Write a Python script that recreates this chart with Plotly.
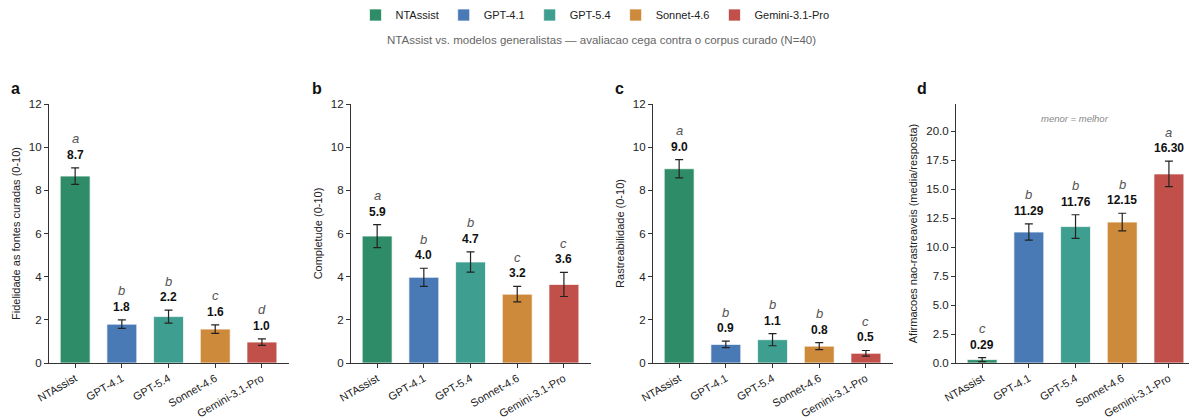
import plotly.graph_objects as go

models = ["NTAssist", "GPT-4.1", "GPT-5.4", "Sonnet-4.6", "Gemini-3.1-Pro"]
colors = ["#2E8C68", "#4A7AB6", "#3E9E8F", "#CD8A3B", "#C1504A"]

fid_vals = [8.66, 1.80, 2.15, 1.57, 0.97]
fid_err = [0.38, 0.20, 0.30, 0.20, 0.15]
fid_lbl = ["8.7", "1.8", "2.2", "1.6", "1.0"]
fid_let = ["a", "b", "b", "c", "d"]

comp_vals = [5.88, 3.97, 4.68, 3.19, 3.64]
comp_err = [0.53, 0.42, 0.47, 0.36, 0.56]
comp_lbl = ["5.9", "4.0", "4.7", "3.2", "3.6"]
comp_let = ["a", "b", "b", "c", "c"]

rast_vals = [9.00, 0.86, 1.08, 0.78, 0.45]
rast_err = [0.42, 0.15, 0.28, 0.16, 0.13]
rast_lbl = ["9.0", "0.9", "1.1", "0.8", "0.5"]
rast_let = ["a", "b", "b", "b", "c"]

nr_vals = [0.29, 11.29, 11.76, 12.15, 16.30]
nr_err = [0.17, 0.70, 1.02, 0.76, 1.10]
nr_lbl = ["0.29", "11.29", "11.76", "12.15", "16.30"]
nr_let = ["c", "b", "b", "b", "a"]

panels = [
    ("a", "Fidelidade as fontes curadas (0-10)", fid_vals, fid_err, fid_lbl, fid_let, [0, 12], [0, 2, 4, 6, 8, 10, 12], None),
    ("b", "Completude (0-10)", comp_vals, comp_err, comp_lbl, comp_let, [0, 12], [0, 2, 4, 6, 8, 10, 12], None),
    ("c", "Rastreabilidade (0-10)", rast_vals, rast_err, rast_lbl, rast_let, [0, 12], [0, 2, 4, 6, 8, 10, 12], None),
    ("d", "Afirmacoes nao-rastreaveis (media/resposta)", nr_vals, nr_err, nr_lbl, nr_let, [0, 22.33], [0, 2.5, 5, 7.5, 10, 12.5, 15, 17.5, 20], ".1f"),
]

# page body has an 8px margin; figure coordinates = screen coordinates - 8
OFF = 8
W, H = 1197 - OFF, 417 - OFF
x_left = [49 - OFF, 351 - OFF, 653 - OFF, 956 - OFF]
panel_w = 240
y_top, y_bot = 104 - OFF, 363 - OFF
letter_x = [15 - OFF, 317 - OFF, 619 - OFF, 922 - OFF]

FONT = "Liberation Sans, Arial, Helvetica, sans-serif"
AX = "#333333"

fig = go.Figure()
annotations = []

for i, (plab, ytitle, vals, errs, lbls, lets, yr, ticks, tfmt) in enumerate(panels):
    n = i + 1
    xa = "x" if n == 1 else f"x{n}"
    ya = "y" if n == 1 else f"y{n}"
    for j, m in enumerate(models):
        fig.add_trace(go.Bar(
            x=[m], y=[vals[j]], name=m, legendgroup=m, showlegend=(i == 0),
            marker=dict(color=colors[j], line=dict(color="rgba(255,255,255,0.7)", width=1)),
            width=0.64,
            error_y=dict(type="data", array=[errs[j]], color="#222222", thickness=1.2, width=4),
            xaxis=xa, yaxis=ya,
        ))
        top = vals[j] + errs[j]
        annotations.append(dict(x=m, y=top, xref=xa, yref=ya, text=f"<b>{lbls[j]}</b>",
                                showarrow=False, yanchor="middle", yshift=13,
                                font=dict(size=12, color="#111111", family=FONT)))
        annotations.append(dict(x=m, y=top, xref=xa, yref=ya, text=f"<i>{lets[j]}</i>",
                                showarrow=False, yanchor="middle", yshift=29,
                                font=dict(size=13, color="#555555", family=FONT)))
    d0 = x_left[i] / W
    d1 = (x_left[i] + panel_w) / W
    xkey = "xaxis" if n == 1 else f"xaxis{n}"
    ykey = "yaxis" if n == 1 else f"yaxis{n}"
    fig.update_layout({
        xkey: dict(domain=[d0, d1], anchor=ya, type="category", range=[-0.56, 4.58],
                   showline=True, linecolor=AX, linewidth=1.1, ticks="outside", ticklen=4,
                   tickcolor=AX, tickangle=-30, tickfont=dict(size=11, color="#222", family=FONT),
                   showgrid=False, zeroline=False, automargin=False, fixedrange=True),
        ykey: dict(domain=[1 - y_bot / H, 1 - y_top / H], anchor=xa, range=yr, tickvals=ticks,
                   tickformat=tfmt, showline=True, linecolor=AX, linewidth=1.1, ticks="outside",
                   ticklen=4, tickcolor=AX, tickfont=dict(size=11.5, color="#222", family=FONT),
                   showgrid=False, zeroline=False, automargin=False,
                   title=dict(text=ytitle, font=dict(size=11, color="#222", family=FONT), standoff=6)),
    })
    annotations.append(dict(x=letter_x[i] / W, y=1 - (88 - OFF) / H, xref="paper", yref="paper",
                            text=f"<b>{plab}</b>", showarrow=False, xanchor="center", yanchor="middle",
                            font=dict(size=16, color="#111", family=FONT)))

annotations.append(dict(x=(601 - OFF) / W, y=1 - (40 - OFF) / H, xref="paper", yref="paper",
                        text="NTAssist vs. modelos generalistas \u2014 avaliacao cega contra o corpus curado (N=40)",
                        showarrow=False, xanchor="center", yanchor="middle",
                        font=dict(size=11.5, color="#666", family=FONT)))
annotations.append(dict(x=(1075 - OFF) / W, y=1 - (118 - OFF) / H, xref="paper", yref="paper",
                        text="<i>menor = melhor</i>", showarrow=False, xanchor="center", yanchor="middle",
                        font=dict(size=9.5, color="#888", family=FONT)))

fig.update_layout(
    width=W, height=H, margin=dict(l=0, r=0, t=0, b=0, autoexpand=False),
    template="none", paper_bgcolor="white", plot_bgcolor="white",
    barmode="overlay", showlegend=True,
    legend=dict(orientation="h", x=(595 - OFF) / W, xanchor="center", y=1 - (15 - OFF) / H, yanchor="middle",
                font=dict(size=11, color="#222", family=FONT), bgcolor="rgba(0,0,0,0)"),
    annotations=annotations,
    font=dict(family=FONT),
)

fig.write_html("out.html")
